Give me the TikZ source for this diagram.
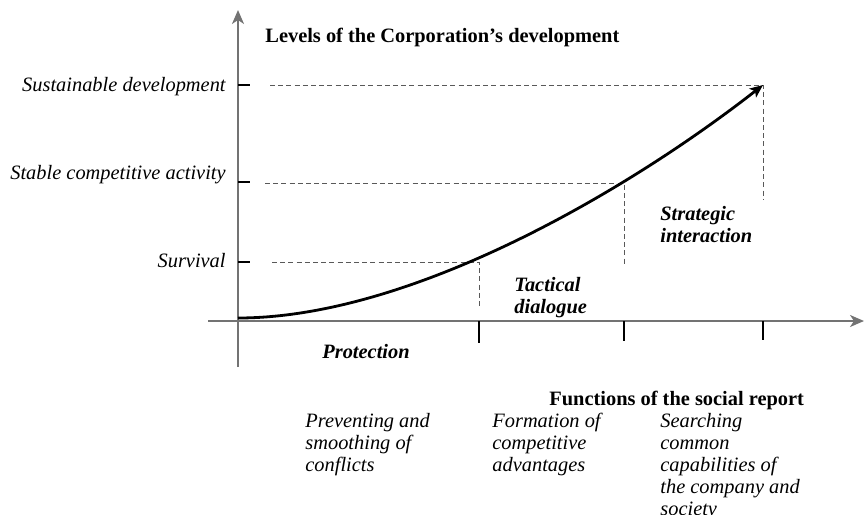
\documentclass[tikz,border=0pt]{standalone}
\usepackage{fontspec}
\setmainfont{Liberation Serif}
\usetikzlibrary{arrows.meta, calc}

\begin{document}
\begin{tikzpicture}[x=0.5pt, y=-0.5pt,
	axis/.style={draw=black!55, line width=1pt, -{Stealth[length=7pt, width=6pt, inset=2pt]}},
	tick/.style={draw=black, line width=0.9pt},
	guide/.style={draw=black!65, line width=0.5pt, dash pattern=on 2.5pt off 1.6pt},
	curve/.style={draw=black, line width=1.4pt, -{Stealth[length=6.5pt, width=5.5pt, inset=1.5pt]}},
	lbl/.style={inner sep=0pt, font=\fontsize{10.2}{11}\selectfont},
	lvl/.style={lbl, anchor=base east, font=\fontsize{10.2}{11}\selectfont\itshape},
	stage/.style={lbl, anchor=base west, align=left, font=\fontsize{10.2}{11}\selectfont\bfseries\itshape},
	func/.style={lbl, anchor=base west, align=left, font=\fontsize{10.2}{11}\selectfont\itshape}]
	\useasboundingbox (0,0) rectangle (864,515);

	% 坐标轴
	\coordinate (O) at (238,321);
	\draw[axis] (238,367) -- (238,10);
	\draw[axis] (208,321) -- (864,321);

	% 纵轴刻度
	\coordinate (ySust) at (238,85);
	\coordinate (yStab) at (238,182);
	\coordinate (ySurv) at (238,262);
	\foreach \p in {ySust, yStab, ySurv}
		\draw[tick] (\p) -- ++(12,0);

	% 横轴刻度
	\coordinate (xTac) at (479,321);
	\coordinate (xStr) at (624,321);
	\coordinate (xEnd) at (763,321);
	\draw[tick] (xTac) -- ++(0,22);
	\draw[tick] (xStr) -- ++(0,20);
	\draw[tick] (xEnd) -- ++(0,19);

	% 虚线
	\coordinate (cSurv) at (479,262);
	\coordinate (cStab) at (624,183);
	\coordinate (cSust) at (763,85);
	\draw[guide] (272,262) -- (cSurv) -- (479,308);
	\draw[guide] (265,183) -- (cStab) -- (624,265);
	\draw[guide] (270,85) -- (cSust) -- (763,200);

	% 发展曲线
	\coordinate (start) at (238,318);
	\draw[curve] (start) .. controls (410,318) and (626,192) .. (cSust);

	% 标题
	\node[lbl, anchor=base west, font=\fontsize{10.2}{11}\selectfont\bfseries] (levels) at (265,42) {Levels of the Corporation's development};
	\node[lbl, anchor=base west, font=\fontsize{10.2}{11}\selectfont\bfseries] (functions) at (549,405) {Functions of the social report};

	% 纵轴标签
	\node[lvl] (sust) at (226,91) {Sustainable development};
	\node[lvl] (stab) at (226,179) {Stable competitive activity};
	\node[lvl] (surv) at (226,267) {Survival};

	% 阶段 (base = 最后一行的基线)
	\node[stage, anchor=base] (prot) at (366,358) {Protection};
	\node[stage] (tact) at (514,313) {Tactical\\dialogue};
	\node[stage] (strat) at (660,242) {Strategic\\interaction};

	% 社会报告的功能
	\node[func] (prev) at (305,471) {Preventing and\\smoothing of\\conflicts};
	\node[func] (form) at (492,471) {Formation of\\competitive\\advantages};
	\node[func] (srch) at (660,515) {Searching\\common\\capabilities of\\the company and\\society};
\end{tikzpicture}
\end{document}
